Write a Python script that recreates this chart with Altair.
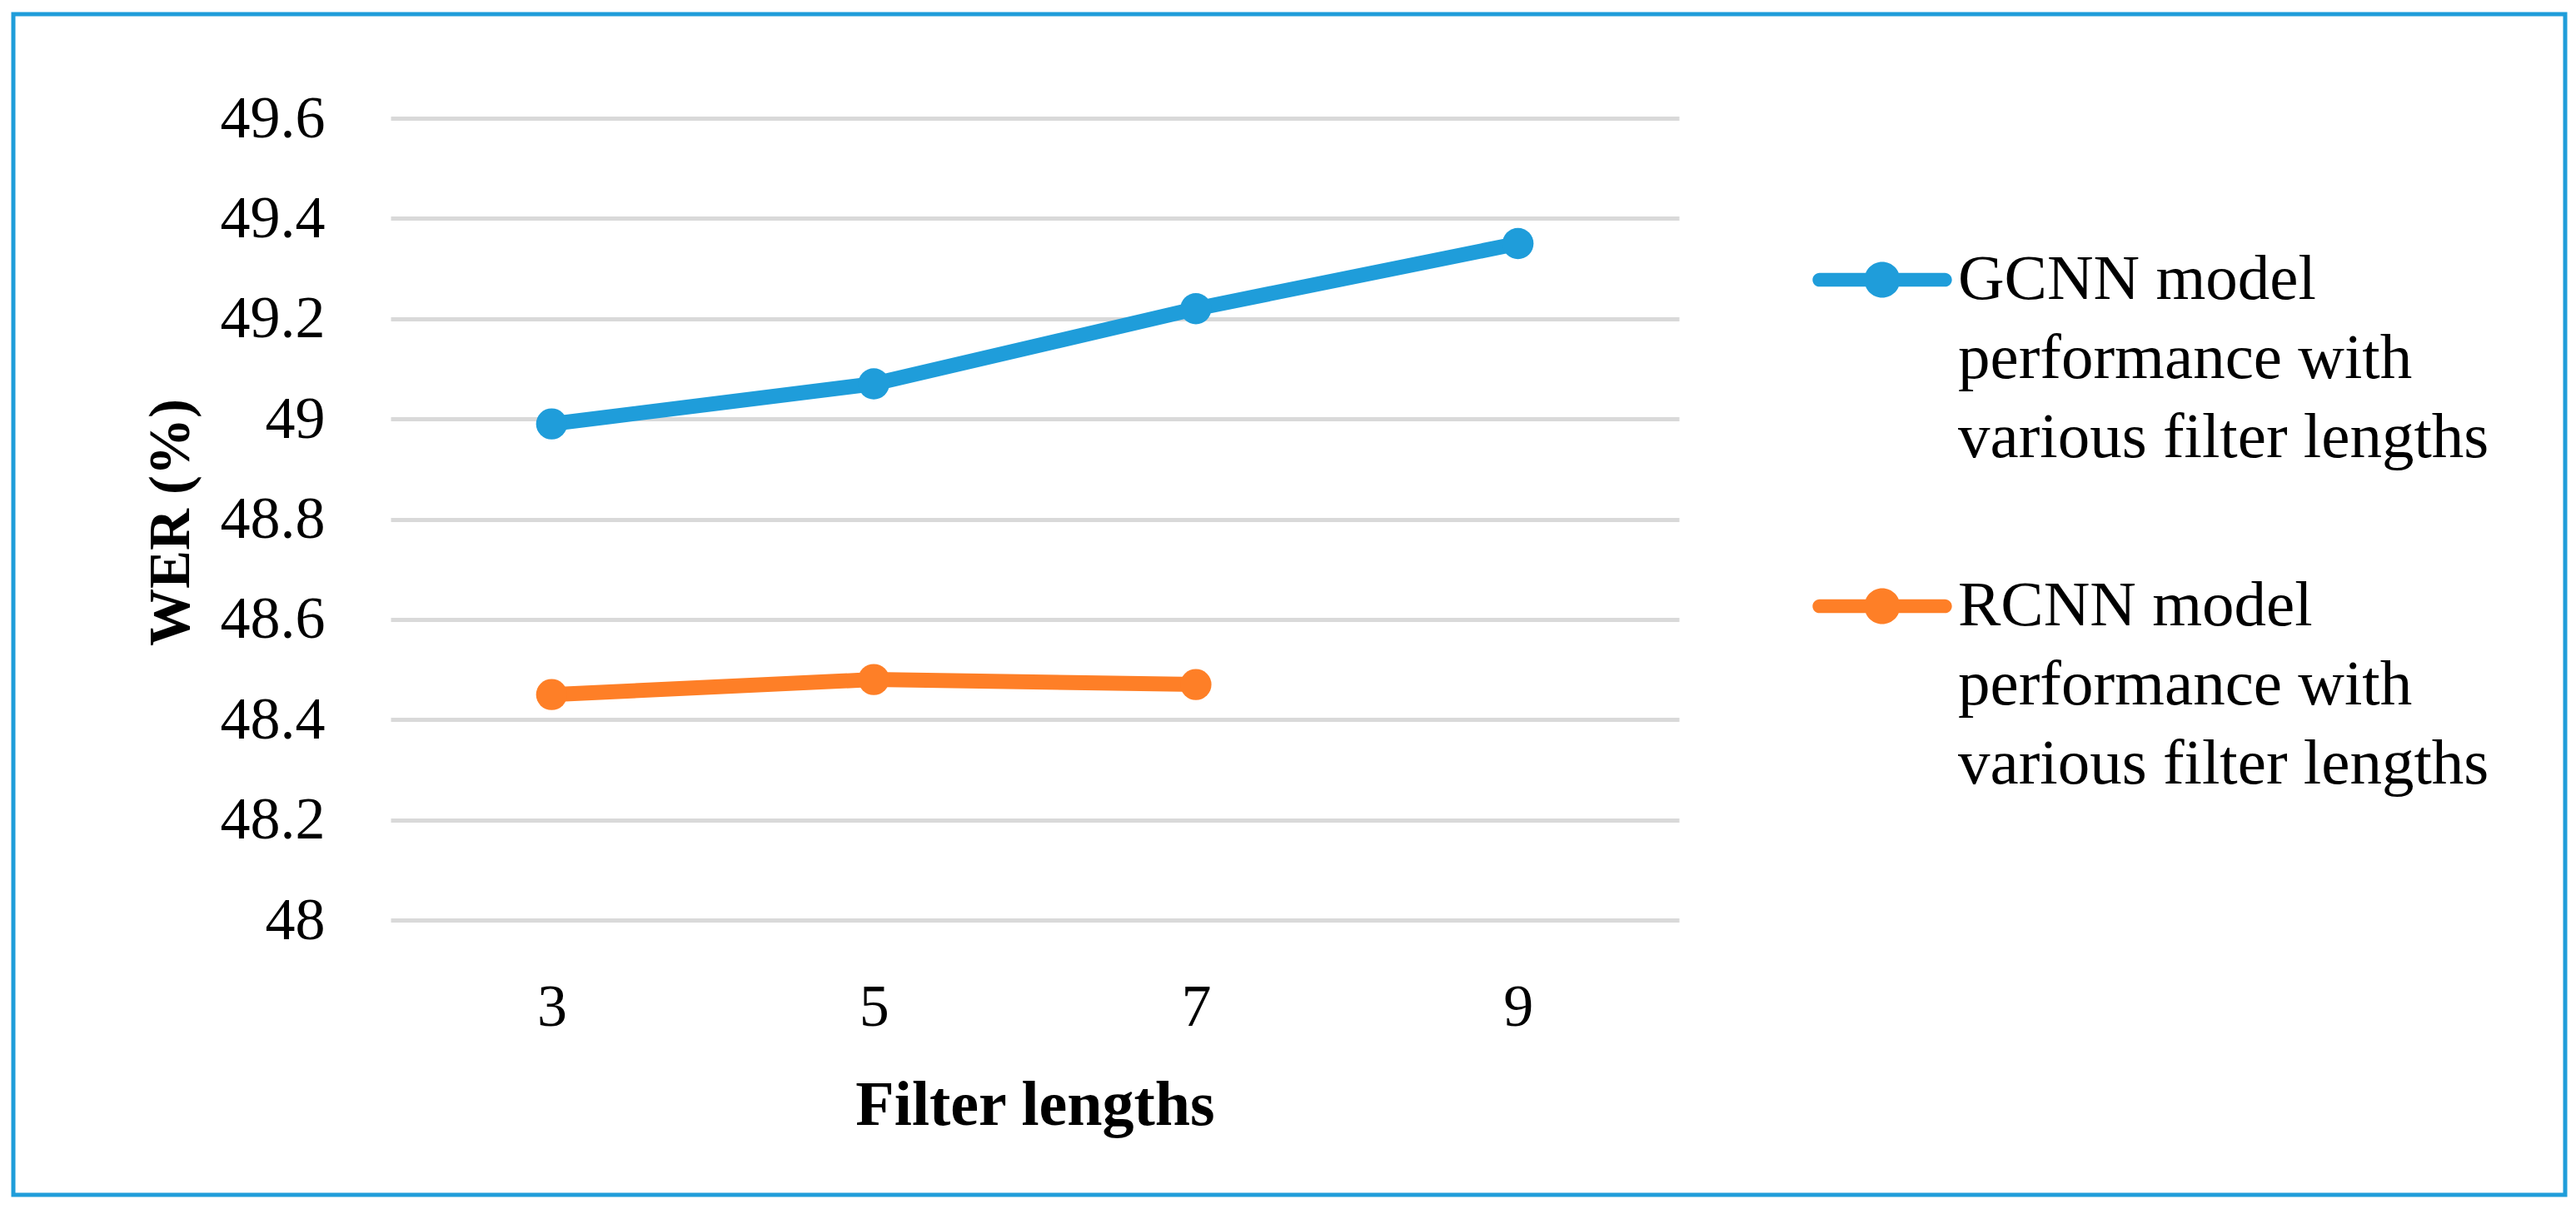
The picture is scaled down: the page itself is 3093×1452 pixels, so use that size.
import altair as alt
import pandas as pd

# ---- data ----
filter_lengths = ["3", "5", "7", "9"]
gcnn_wer = [48.99, 49.07, 49.22, 49.35]
rcnn_wer = [48.45, 48.48, 48.47]
series_names = ["GCNN", "RCNN"]
series_colors = ["#1f9dda", "#fe7f27"]
y_ticks = [48.0, 48.2, 48.4, 48.6, 48.8, 49.0, 49.2, 49.4, 49.6]

rows = []
for x, v in zip(filter_lengths, gcnn_wer):
    rows.append({"length": x, "wer": v, "series": "GCNN"})
for x, v in zip(filter_lengths, rcnn_wer):
    rows.append({"length": x, "wer": v, "series": "RCNN"})
df = pd.DataFrame(rows)

FONT = "Liberation Serif"

# legend symbol: thick line with round caps and a dot in the middle
legend_path = (
    "M-0.9,-0.1 H0.9 A0.1,0.1 0 0,1 0.9,0.1 H-0.9 A0.1,0.1 0 0,1 -0.9,-0.1 Z "
    "M0.257,0 A0.257,0.257 0 1,1 -0.257,0 A0.257,0.257 0 1,1 0.257,0 Z"
)

legend = alt.Legend(
    title=None,
    orient="none",
    legendX=1707,
    legendY=110,
    padding=0,
    symbolType=legend_path,
    symbolSize=28000,
    symbolStrokeWidth=0,
    symbolOpacity=1,
    labelFont=FONT,
    labelFontSize=77,
    labelColor="#000000",
    labelOffset=7,
    labelBaseline="middle",
    labelLimit=1200,
    rowPadding=80,
    labelExpr="[datum.label + ' model', 'performance with', 'various filter lengths']",
)
scale = alt.Scale(domain=series_names, range=series_colors)

x = alt.X(
    "length:O",
    sort=filter_lengths,
    scale=alt.Scale(type="point", padding=0.5),
    axis=alt.Axis(
        title="Filter lengths",
        labelAngle=0,
        ticks=False,
        domain=False,
        grid=False,
        labelFont=FONT,
        labelFontSize=72,
        labelColor="#000000",
        labelPadding=69,
        titleFont=FONT,
        titleFontSize=76,
        titleFontWeight="bold",
        titleColor="#000000",
        titleY=245,
        titleBaseline="alphabetic",
    ),
)

y = alt.Y(
    "wer:Q",
    scale=alt.Scale(domain=[48, 49.6], nice=False, zero=False),
    axis=alt.Axis(
        title="WER (%)",
        values=y_ticks,
        format="~g",
        ticks=False,
        domain=False,
        grid=True,
        gridColor="#d9d9d9",
        gridWidth=5,
        labelFont=FONT,
        labelFontSize=72,
        labelColor="#000000",
        labelPadding=79,
        titleFont=FONT,
        titleFontSize=69,
        titleFontWeight="bold",
        titleColor="#000000",
        titleAngle=-90,
        titleX=-264,
        titleY=485,
        titleAlign="center",
        titleBaseline="middle",
    ),
)

lines = alt.Chart(df).mark_line(strokeWidth=18, strokeCap="round", strokeJoin="round").encode(
    x=x, y=y, color=alt.Color("series:N", scale=scale, legend=legend)
)
points = alt.Chart(df).mark_circle(size=1400, opacity=1).encode(
    x=x, y=y, color=alt.Color("series:N", scale=scale, legend=legend)
)

frame = alt.Chart(pd.DataFrame({"k": [0]})).mark_rect(
    filled=False, stroke="#1f9dda", strokeWidth=5
).encode(
    x=alt.value(-453), x2=alt.value(2611), y=alt.value(-125), y2=alt.value(1293)
)

chart = alt.layer(lines, points, frame).properties(
    width=1547,
    height=963,
    autosize=alt.AutoSizeParams(type="none"),
    padding={"left": 461, "top": 134, "right": 1068, "bottom": 333},
).configure(
    background="#ffffff",
    view=alt.ViewConfig(stroke="transparent", strokeWidth=0),
    style={"guide-label": {"lineHeight": 95}},
)

chart.save("out.html", embed_options={"renderer": "svg", "actions": False})
